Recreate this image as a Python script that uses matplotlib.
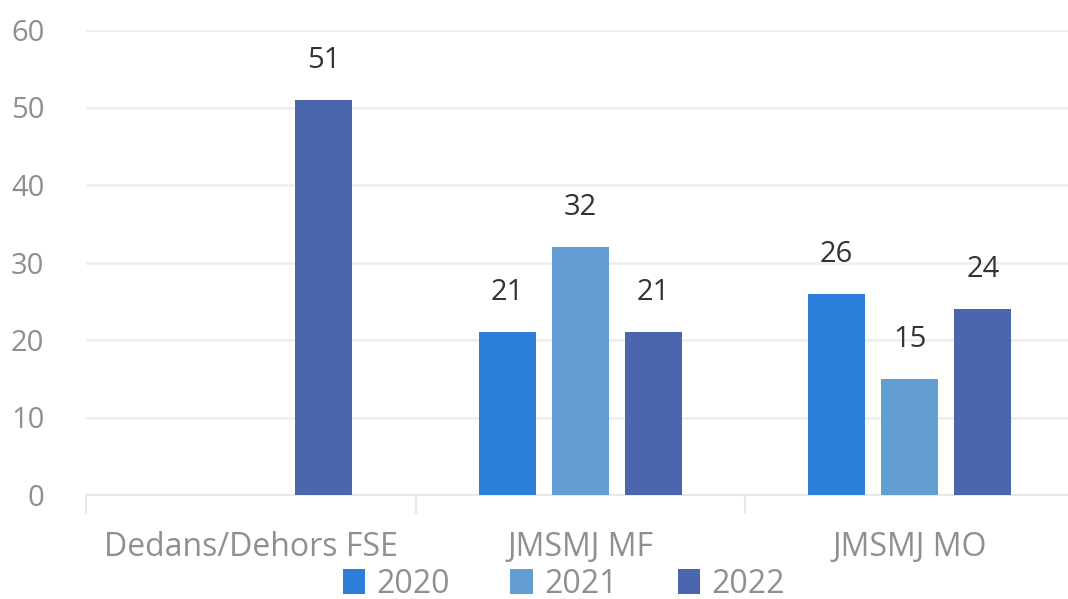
import matplotlib
matplotlib.use("Agg")
import matplotlib.pyplot as plt
import numpy as np
from matplotlib.patches import Patch

categories = ["Dedans/Dehors FSE", "JMSMJ MF", "JMSMJ MO"]
series = ["2020", "2021", "2022"]
v2020 = [np.nan, 21, 26]
v2021 = [np.nan, 32, 15]
v2022 = [51, 21, 24]
yticks = [0, 10, 20, 30, 40, 50, 60]
colors = ["#2B7FD9", "#629ED2", "#4A66AD"]

plt.rcParams['font.family'] = ['Open Sans', 'DejaVu Sans']
FS_CAT = 23
FS_NUM = 21
FS_LEG = 23

fig = plt.figure(figsize=(10.68, 5.99), dpi=100)
ax = fig.add_axes([86/1068, 1-495/599, 1-86/1068, (495-30)/599])

x = np.arange(len(categories))
offsets = [-0.222, 0.0, 0.222]
width = 0.173
for vals, off, c in zip([v2020, v2021, v2022], offsets, colors):
    ax.bar(x + off, vals, width, color=c, zorder=3)
    for xi, v in zip(x + off, vals):
        if not np.isnan(v):
            ax.annotate(f"{v:g}", (xi, v), xytext=(0, 18), textcoords="offset points",
                        ha="center", va="bottom", fontsize=FS_NUM, color="#333333")

ax.set_xlim(-0.5, 2.48)
ax.set_ylim(0, 60)
ax.set_yticks(yticks)
ax.set_yticklabels([str(t) for t in yticks], fontsize=FS_NUM, color="#8f8f8f")
ax.yaxis.grid(True, color="#efefef", linewidth=2, zorder=0)
ax.tick_params(axis="y", length=0, pad=30)
for s in ["top", "right", "left"]:
    ax.spines[s].set_visible(False)
ax.spines["bottom"].set_color("#e8e8e8")
ax.spines["bottom"].set_linewidth(1.5)

ax.set_xticks(x)
ax.set_xticklabels(categories, fontsize=FS_CAT, color="#8f8f8f")
ax.tick_params(axis="x", length=0, pad=26)
ax.set_xticks([-0.5, 0.5, 1.5], minor=True)
ax.tick_params(axis="x", which="minor", length=14, color="#e8e8e8", width=1.5)

handles = [Patch(facecolor=c, label=s) for c, s in zip(colors, series)]
fig.legend(handles=handles, loc="lower center", bbox_to_anchor=(0.528, -0.04), ncol=3,
           frameon=False, fontsize=FS_LEG, handlelength=0.7, handleheight=0.8,
           handletextpad=0.35, columnspacing=1.9, labelcolor="#8f8f8f",
           borderpad=0.2)

fig.savefig("out.png", dpi=100)
